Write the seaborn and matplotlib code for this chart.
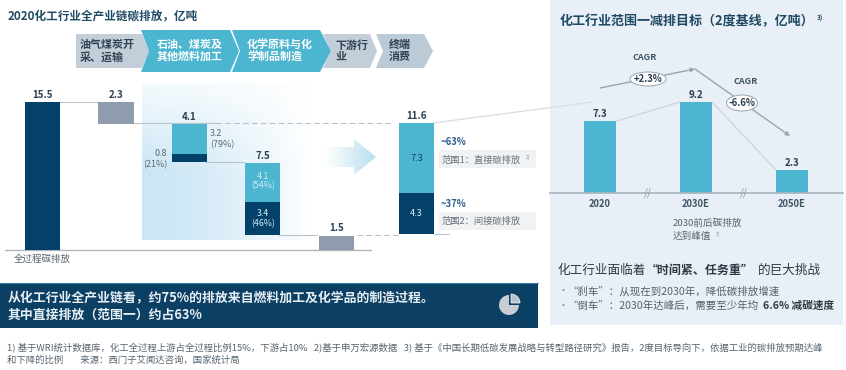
import numpy as np
import pandas as pd
import matplotlib
matplotlib.use('Agg')
import matplotlib.pyplot as plt
from matplotlib.patches import Polygon, Ellipse, Wedge, Rectangle
import seaborn as sns

# waterfall data (100 Mt)
stages = ['全过程', '开采', '燃料加工', '化学品', '下游', '范围']
seg_stage = ['全过程', '开采', '燃料加工', '燃料加工', '化学品', '化学品', '下游', '范围', '范围']
seg_value = [15.5, 2.3, 3.2, 0.8, 4.1, 3.4, 1.5, 7.3, 4.3]
seg_bottom = [0, 13.2, 10.0, 9.2, 5.0, 1.6, 0, 5.95, 1.65]
seg_kind = ['navy', 'grey', 'cyan', 'navy', 'cyan', 'navy', 'grey', 'cyan', 'navy']
totals = [15.5, 2.3, 4.1, 7.5, 1.5, 11.6]
total_tops = [15.5, 15.5, 13.2, 9.1, 1.5, 13.25]

# target data
years = ['2020', '2030E', '2050E']
target = [7.3, 9.2, 2.3]

NAVY = '#04416a'
CYAN = '#4cb6d1'
GREY = '#8e9cae'
TITLE = '#1f4a63'
colors = {'navy': NAVY, 'cyan': CYAN, 'grey': GREY}

W, H = 846, 370
GAP = 0.095  # last waterfall bar sits a bit further right
sns.set_theme(style='white')
plt.rcParams['font.family'] = ['Noto Sans CJK SC', 'DejaVu Sans']
fig = plt.figure(figsize=(W / 100, H / 100), dpi=100, facecolor='white')


def pixel_axes(z):
    a = fig.add_axes([0, 0, 1, 1], zorder=z)
    a.set_xlim(0, W)
    a.set_ylim(H, 0)
    a.axis('off')
    a.patch.set_alpha(0)
    return a


def axes_px(x0, y0, x1, y1, z=2):
    # axes from pixel box
    return fig.add_axes([x0 / W, 1 - y1 / H, (x1 - x0) / W, (y1 - y0) / H], zorder=z)


def txt(a, x, y, s, px, color='#333333', bold=False, ha='left', va='center', z=6):
    a.text(x, y, s, fontsize=px * 0.72, color=color, ha=ha, va=va, zorder=z,
           fontweight='bold' if bold else 'normal')


bg = pixel_axes(0)
fg = pixel_axes(5)

# right panel and left gradient
bg.add_patch(Rectangle((550, 0), 293, 325, fc='#e9eff6', ec='none'))
gx = np.clip(1 - np.linspace(0, 1, 200) ** 1.6, 0, 1)
gy = np.clip(np.linspace(0.2, 1.6, 160), 0, 1)
grad = np.zeros((160, 200, 4))
grad[..., 0] = 203 / 255
grad[..., 1] = 230 / 255
grad[..., 2] = 245 / 255
grad[..., 3] = np.outer(gy, gx)
bg.imshow(grad, extent=(142, 310, 240, 83), aspect='auto', zorder=1)
bg.set_xlim(0, W)
bg.set_ylim(H, 0)

# big arrow with fade
arrow = Polygon([(325, 147), (354, 147), (354, 139), (376, 157), (354, 175), (354, 167), (325, 167)],
                closed=True, transform=bg.transData, fc='none', ec='none')
bg.add_patch(arrow)
ag = np.zeros((2, 100, 4))
ag[..., 0] = 185 / 255
ag[..., 1] = 222 / 255
ag[..., 2] = 238 / 255
ag[..., 3] = np.linspace(0, 1, 100)
im = bg.imshow(ag, extent=(325, 376, 175, 139), aspect='auto', zorder=2)
im.set_clip_path(arrow)
bg.set_xlim(0, W)
bg.set_ylim(H, 0)

# chain header
gray_h = '#bccad6'
chev = [
    ([(76, 34), (142, 34), (149, 51), (142, 68), (76, 68)], '#c3ced9'),
    ([(323, 34), (370, 34), (377, 51), (370, 68), (323, 68), (331, 51)], '#c3ced9'),
    ([(376, 34), (424, 34), (433, 51), (424, 68), (376, 68), (383, 51)], gray_h),
    ([(141, 30), (230, 30), (239, 51), (230, 72), (141, 72), (149, 51)], CYAN),
    ([(232, 30), (320, 30), (331, 51), (320, 72), (232, 72), (240, 51)], CYAN),
]
for pts, c in chev:
    bg.add_patch(Polygon(pts, closed=True, fc=c, ec='none', zorder=3))

# waterfall
seg = pd.DataFrame({'stage': seg_stage, 'value': seg_value, 'bottom': seg_bottom, 'kind': seg_kind})
ax = axes_px(0, 80, 440, 250)
ax.patch.set_alpha(0)
for _, r in seg.iterrows():
    sns.barplot(x=[r['stage']], y=[r['value']], order=stages, color=colors[r['kind']],
                saturation=1, width=0.48, bottom=r['bottom'], linewidth=0, ax=ax)
for p in ax.patches[-2:]:
    p.set_x(p.get_x() + GAP)
ax.set_xlim(-0.579, 5.415)
ax.set_ylim(0, 170 / 9.55)
ax.axis('off')
for i, (v, top) in enumerate(zip(totals, total_tops)):
    ax.text(i + (GAP if i == 5 else 0), top + 0.25, f'{v}', ha='center', va='bottom',
            fontsize=7, fontweight='bold', color='#2b3f4f')
ax.text(3, 7.2, '4.1\n(54%)', ha='center', va='center', fontsize=6.3, color='#d5eef5', linespacing=1.1)
ax.text(3, 3.3, '3.4\n(46%)', ha='center', va='center', fontsize=6.3, color='#d5eef5', linespacing=1.1)
ax.text(5 + GAP, 9.6, '7.3', ha='center', va='center', fontsize=6.6, color='#12405f')
ax.text(5 + GAP, 3.8, '4.3', ha='center', va='center', fontsize=6.6, color='#d5eef5')

# connectors on the left
line = dict(color='#b9c2ca', lw=0.8, zorder=1)
bg.plot([60, 98], [102, 102], **line)
bg.plot([133, 216], [123, 123], color='#b9c2ca', lw=0.8, zorder=4)
bg.plot([216, 392], [123, 123], color='#b9c2ca', lw=0.8, ls=(0, (5, 3)), zorder=4)
bg.plot([206, 244], [162, 162], **line)
bg.plot([279, 317], [235, 235], **line)
bg.plot([357, 399], [235, 235], color='#b9c2ca', lw=0.8, ls=(0, (5, 3)))
bg.plot([5, 371], [250, 250], color='#b0b6bc', lw=1)
bg.plot([434, 449], [234, 234], color='#b9c2ca', lw=0.8)
bg.plot([433, 593], [123, 102], color='#d3dee6', lw=0.9, zorder=4)

# target bars
ax2 = axes_px(550, 80, 843, 193, z=2)
ax2.patch.set_alpha(0)
sns.barplot(x=years, y=target, order=years, color=CYAN, saturation=1, width=0.34, linewidth=0, ax=ax2)
ax2.set_xlim(-0.52, 2.53)
ax2.set_ylim(0, 113 / 9.9)
ax2.set_yticks([])
ax2.set_xlabel('')
ax2.set_ylabel('')
ax2.tick_params(axis='x', length=0, pad=4)
for lab in ax2.get_xticklabels():
    lab.set_fontsize(6.8)
    lab.set_fontweight('bold')
    lab.set_color('#3f5565')
sns.despine(ax=ax2, left=True)
ax2.spines['bottom'].set_color('#a9b6c1')
for i, v in enumerate(target):
    ax2.text(i, v + 0.2, f'{v}', ha='center', va='bottom', fontsize=7, fontweight='bold', color='#2b3f4f')

# right side annotations
fg.plot([617, 680], [121, 102], color='#cdd5dc', lw=0.9)
fg.plot([712, 776], [102, 170], color='#cdd5dc', lw=0.9)
fg.annotate('', xy=(695, 69), xytext=(600, 88), zorder=2,
            arrowprops=dict(arrowstyle='-|>', color='#9aa4ae', lw=1, mutation_scale=6, shrinkA=0, shrinkB=0))
fg.annotate('', xy=(790, 136), xytext=(695, 69), zorder=2,
            arrowprops=dict(arrowstyle='-|>', color='#9aa4ae', lw=1, mutation_scale=6, shrinkA=0, shrinkB=0))
fg.add_patch(Ellipse((648, 79), 36, 14, fc='white', ec='#9aa4ae', lw=0.7, zorder=4))
fg.add_patch(Ellipse((742, 103), 31, 16, fc='white', ec='#9aa4ae', lw=0.7, zorder=4))
txt(fg, 648, 79, '+2.3%', 9.5, '#2b3f4f', True, 'center')
txt(fg, 742, 103, '-6.6%', 9.5, '#2b3f4f', True, 'center')
txt(fg, 645, 57, 'CAGR', 9, '#3f5565', True, 'center')
txt(fg, 746, 82, 'CAGR', 9, '#3f5565', True, 'center')
txt(fg, 648, 193, '//', 10, '#8a97a3', False, 'center')
txt(fg, 744, 193, '//', 10, '#8a97a3', False, 'center')

# titles
txt(fg, 8, 16, '2020化工行业全产业链碳排放，亿吨', 11.6, TITLE, True)
txt(fg, 560, 21, '化工行业范围一减排目标（2度基线，亿吨）', 13, TITLE, True)
txt(fg, 817, 18, '3)', 6.5, TITLE, True)

# header texts
txt(fg, 80, 51, '油气煤炭开\n采、运输', 11, '#2f4353', True)
txt(fg, 157, 51, '石油、煤炭及\n其他燃料加工', 11, 'white', True)
txt(fg, 247, 51, '化学原料与化\n学制品制造', 11, 'white', True)
txt(fg, 335, 51, '下游行\n业', 11, '#2f4353', True)
txt(fg, 389, 51, '终端\n消费', 11, '#2f4353', True)

# waterfall side labels
txt(fg, 210, 139, '3.2\n(79%)', 9, '#5a6b78')
txt(fg, 167, 159, '0.8\n(21%)', 9, '#5a6b78', False, 'right')
txt(fg, 14, 259, '全过程碳排放', 9.5, '#56646f')
txt(fg, 441, 142, '~63%', 9.5, '#2f5c8a', True)
txt(fg, 441, 204, '~37%', 9.5, '#2f5c8a', True)
bg.add_patch(Rectangle((439, 150), 97, 18, fc='#f0f2f4', ec='none'))
bg.add_patch(Rectangle((439, 212), 97, 18, fc='#f0f2f4', ec='none'))
txt(fg, 442, 160, '范围1：直接碳排放', 9.3, '#66727c')
txt(fg, 526, 157, '2)', 5, '#8a949c')
txt(fg, 442, 221, '范围2：间接碳排放', 9.3, '#66727c')

# note below right chart
txt(fg, 673, 223, '2030前后碳排放', 9.6, '#56646f')
txt(fg, 673, 236, '达到峰值', 9.6, '#56646f')
txt(fg, 716, 234, '3)', 5, '#8a949c')

# challenge block
txt(fg, 557, 270, '化工行业面临着', 12.6, '#2f3b44')
txt(fg, 646, 270, '“时间紧、任务重”', 12, '#2f3b44', True)
txt(fg, 758, 270, '的巨大挑战', 12.6, '#2f3b44')
txt(fg, 559, 291, '▪', 7, '#8a949c')
txt(fg, 559, 306, '▪', 7, '#8a949c')
txt(fg, 567, 291, '“刹车”：从现在到2030年，降低碳排放增速', 10.5, '#55616b')
txt(fg, 567, 306, '“倒车”：2030年达峰后，需要至少年均', 10.5, '#55616b')
txt(fg, 763, 306, '6.6% 减碳速度', 10.6, '#2f3b44', True)

# conclusion box
bg.add_patch(Rectangle((0, 283), 538, 45, fc='#0b3f63', ec='none'))
bg.plot([0, 538], [283, 283], color='#2f7fa3', lw=0.8)
txt(fg, 8, 297, '从化工行业全产业链看，约75%的排放来自燃料加工及化学品的制造过程。', 12.9, '#e8eff4', True)
txt(fg, 8, 315, '其中直接排放（范围一）约占63%', 12.9, '#e8eff4', True)
fg.add_patch(Wedge((509, 305), 10, 0, 270, fc='#c6cdd3', ec='none'))
fg.add_patch(Wedge((511, 303), 9, -90, 0, fc='#b7c1c9', ec='white', lw=0.5))

# footnotes
txt(fg, 7, 348, '1) 基于WRI统计数据库，化工全过程上游占全过程比例15%，下游占10%   2)基于申万宏源数据   '
    '3) 基于《中国长期低碳发展战略与转型路径研究》报告，2度目标导向下，依据工业的碳排放预期达峰', 9.4, '#56646f')
txt(fg, 7, 360, '和下降的比例        来源：西门子艾闻达咨询，国家统计局', 9.4, '#56646f')

fig.savefig('out.png', dpi=100)
